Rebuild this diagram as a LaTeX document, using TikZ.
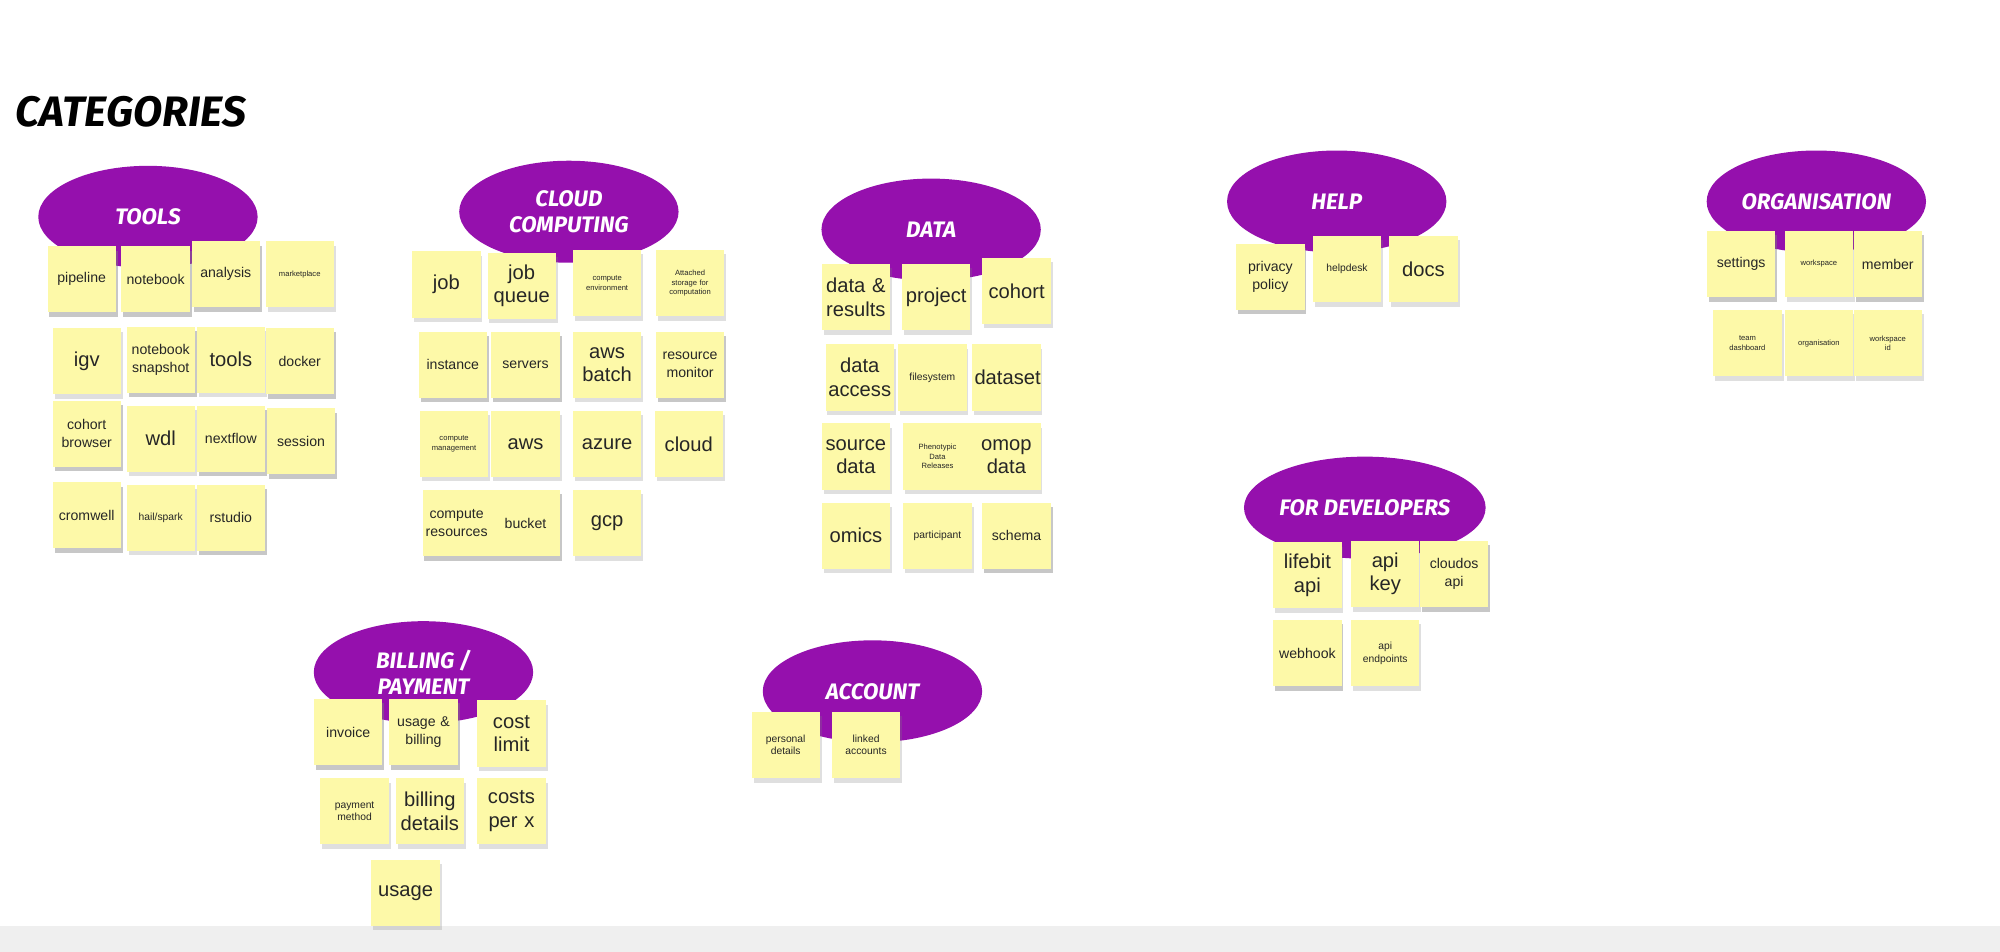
\documentclass[tikz,border=0pt]{standalone}
\usepackage{fontspec}
\setmainfont{Liberation Sans}
\newfontfamily\headfont{Fira Sans}
\usetikzlibrary{shapes.geometric,shadows}
\definecolor{notefill}{HTML}{FDF9A8}
\definecolor{catpurple}{HTML}{9510AD}
\definecolor{barfill}{HTML}{EFEFEF}
\tikzset{
  note/.style={fill=notefill, minimum width=1.04cm, minimum height=1.04cm,
    inner sep=1pt, align=center, text width=1.0cm, text=black!85,
    drop shadow={opacity=0.25, shadow xshift=0.03cm, shadow yshift=-0.07cm},
    font=\fontsize{6.3}{8}\selectfont},
  big/.style={font=\fontsize{9}{10.5}\selectfont},
  small/.style={font=\fontsize{4.6}{5.6}\selectfont},
  tiny/.style={font=\fontsize{3.4}{4.3}\selectfont},
  cat/.style={ellipse, fill=catpurple, minimum width=3.44cm, minimum height=1.6cm,
    inner sep=0pt, align=center, text=white,
    font=\headfont\bfseries\itshape\fontsize{10}{11.5}\selectfont},
}
\begin{document}
\begin{tikzpicture}[x=0.02cm,y=-0.02cm]
  \useasboundingbox (0,0) rectangle (1568,746);
  \fill[barfill] (0,726) rectangle (1568,746);
  \node[anchor=west, font=\headfont\bfseries\itshape\fontsize{19}{22}\selectfont] (title) at (6,88) {CATEGORIES};

  % category bubbles
  \node[cat] (c-tools) at (116,170) {TOOLS};
  \node[cat] (c-cloud) at (446,166) {CLOUD\\COMPUTING};
  \node[cat] (c-data) at (730,180) {DATA};
  \node[cat] (c-help) at (1048,158) {HELP};
  \node[cat] (c-org) at (1424,158) {ORGANISATION};
  \node[cat] (c-dev) at (1070,398) {FOR DEVELOPERS};
  \node[cat] (c-bill) at (332,527) {BILLING /\\PAYMENT};
  \node[cat] (c-acc) at (684,542) {ACCOUNT};

  % tools
  \foreach \n/\x/\y/\s/\t in {pipe/64/219/note/pipeline, nb/122/219/note/notebook,
      ana/177/215/note/analysis, mkt/235/215/tiny/marketplace,
      igv/68/283/big/igv, nbs/126/282/note/{notebook\\snapshot}, tls/181/282/big/tools,
      dock/235/283/note/docker, cb/68/340/note/{cohort\\browser}, wdl/126/344/big/wdl,
      nf/181/344/note/nextflow, sess/236/346/note/session, crom/68/404/note/cromwell,
      hail/126/406/small/{hail/spark}, rst/181/406/note/rstudio}
    \node[note,\s] (t-\n) at (\x,\y) {\t};

  % cloud computing
  \foreach \n/\x/\y/\s/\t in {job/350/223/big/job, jq/409/224/big/{job\\queue},
      ce/476/222/tiny/{compute\\environment}, as/541/222/tiny/{Attached\\storage for\\computation},
      inst/355/286/note/instance, srv/412/286/note/servers, awsb/476/286/big/{aws\\batch},
      rm/541/286/note/{resource\\monitor}, cm/356/348/tiny/{compute\\management},
      aws/412/348/big/aws, az/476/348/big/azure, cl/540/348/big/cloud,
      cr/358/410/note/{compute\\resources}, bkt/412/410/note/bucket, gcp/476/410/big/gcp}
    \node[note,\s] (cc-\n) at (\x,\y) {\t};

  % data
  \foreach \n/\x/\y/\s/\t in {dr/671/233/big/{data \&\\results}, prj/734/233/big/project,
      coh/797/228/big/cohort, da/674/296/big/{data\\access}, fs/731/296/small/filesystem,
      ds/789/296/big/dataset, sd/671/358/big/{source\\data}, pdr/735/358/tiny/{Phenotypic\\Data\\Releases},
      omop/789/358/big/{omop\\data}, om/671/420/big/omics, part/735/420/small/participant,
      sch/797/420/note/schema}
    \node[note,\s] (d-\n) at (\x,\y) {\t};

  % help
  \foreach \n/\x/\y/\s/\t in {pp/996/217/note/{privacy\\policy}, hd/1056/211/small/helpdesk,
      docs/1116/211/big/docs}
    \node[note,\s] (h-\n) at (\x,\y) {\t};

  % organisation
  \foreach \n/\x/\y/\s/\t in {set/1365/207/note/settings, ws/1426/207/tiny/workspace,
      mem/1480/207/note/member, td/1370/269/tiny/{team\\dashboard},
      org/1426/269/tiny/organisation, wsid/1480/269/tiny/{workspace\\id}}
    \node[note,\s] (o-\n) at (\x,\y) {\t};

  % for developers
  \foreach \n/\x/\y/\s/\t in {lb/1025/451/big/{lifebit\\api}, key/1086/450/big/{api\\key},
      cos/1140/450/note/{cloudos\\api}, wh/1025/512/note/webhook,
      ep/1086/512/small/{api\\endpoints}}
    \node[note,\s] (dv-\n) at (\x,\y) {\t};

  % billing / payment
  \foreach \n/\x/\y/\s/\t in {inv/273/574/note/invoice, ub/332/574/note/{usage \&\\billing},
      cl/401/575/big/{cost\\limit}, pm/278/636/small/{payment\\method},
      bd/337/636/big/{billing\\details}, cpx/401/636/big/{costs\\per x}, use/318/700/big/usage}
    \node[note,\s] (b-\n) at (\x,\y) {\t};

  % account
  \foreach \n/\x/\y/\s/\t in {pd/616/584/small/{personal\\details}, la/679/584/small/{linked\\accounts}}
    \node[note,\s] (a-\n) at (\x,\y) {\t};
\end{tikzpicture}
\end{document}
